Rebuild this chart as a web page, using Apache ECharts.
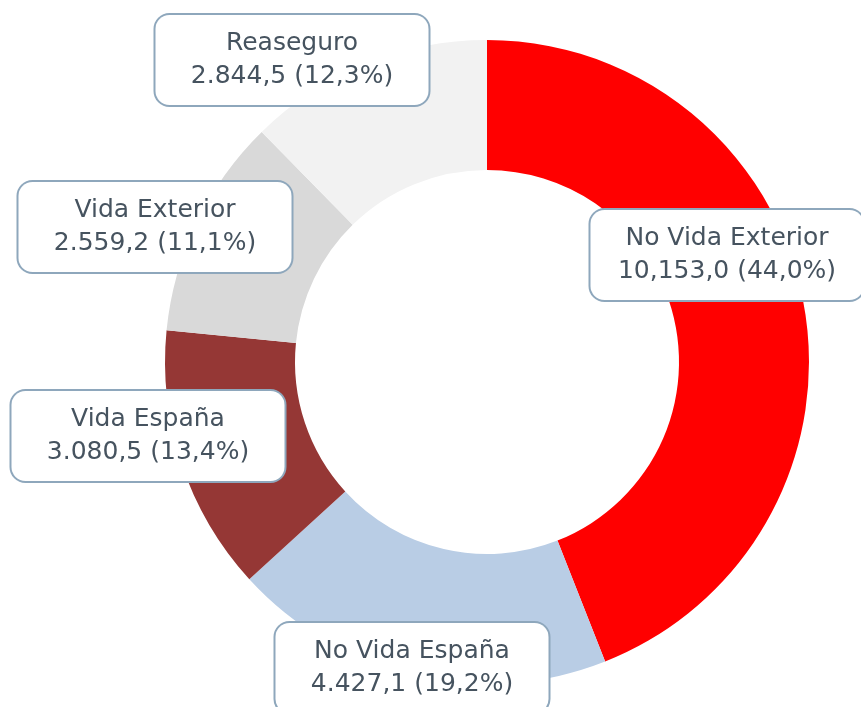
<!DOCTYPE html>
<html>
<head>
<meta charset="utf-8">
<script src="https://cdn.jsdelivr.net/npm/echarts@6/dist/echarts.min.js"></script>
<style>
  html, body { margin: 0; padding: 0; background: #fff; }
  #chart { width: 861px; height: 707px; }
</style>
</head>
<body>
<div id="chart"></div>
<script>
var names = ['No Vida Exterior', 'No Vida España', 'Vida España', 'Vida Exterior', 'Reaseguro'];
var values = [10153.0, 4427.1, 3080.5, 2559.2, 2844.5];
var valueText = ['10,153,0', '4.427,1', '3.080,5', '2.559,2', '2.844,5'];
var shares = ['44,0%', '19,2%', '13,4%', '11,1%', '12,3%'];
var colors = ['#FF0000', '#B9CDE5', '#953735', '#D9D9D9', '#F2F2F2'];

// label box centres (px)
var labelPos = [[727, 255], [412, 668], [148, 436], [155, 227], [292, 60]];

var myChart = echarts.init(document.getElementById('chart'));

var option = {
    animation: false,
    series: [{
        type: 'pie',
        center: [487, 362],
        radius: [192, 322],
        startAngle: 90,
        clockwise: true,
        avoidLabelOverlap: false,
        itemStyle: { borderWidth: 0 },
        label: {
            show: true,
            position: 'outside',
            formatter: function (p) {
                return names[p.dataIndex] + '\n' + valueText[p.dataIndex] + ' (' + shares[p.dataIndex] + ')';
            },
            fontFamily: 'DejaVu Sans',
            fontSize: 25,
            lineHeight: 33,
            color: '#46535F',
            align: 'center',
            width: 273,
            padding: [12, 0],
            backgroundColor: '#fff',
            borderColor: '#8EA7BC',
            borderWidth: 2,
            borderRadius: 14
        },
        labelLine: { show: false },
        labelLayout: function (params) {
            var pos = labelPos[params.dataIndex];
            return { x: pos[0], y: pos[1], align: 'center', verticalAlign: 'middle' };
        },
        data: names.map(function (n, i) {
            return { name: n, value: values[i], itemStyle: { color: colors[i] } };
        })
    }]
};

myChart.setOption(option);
</script>
</body>
</html>
